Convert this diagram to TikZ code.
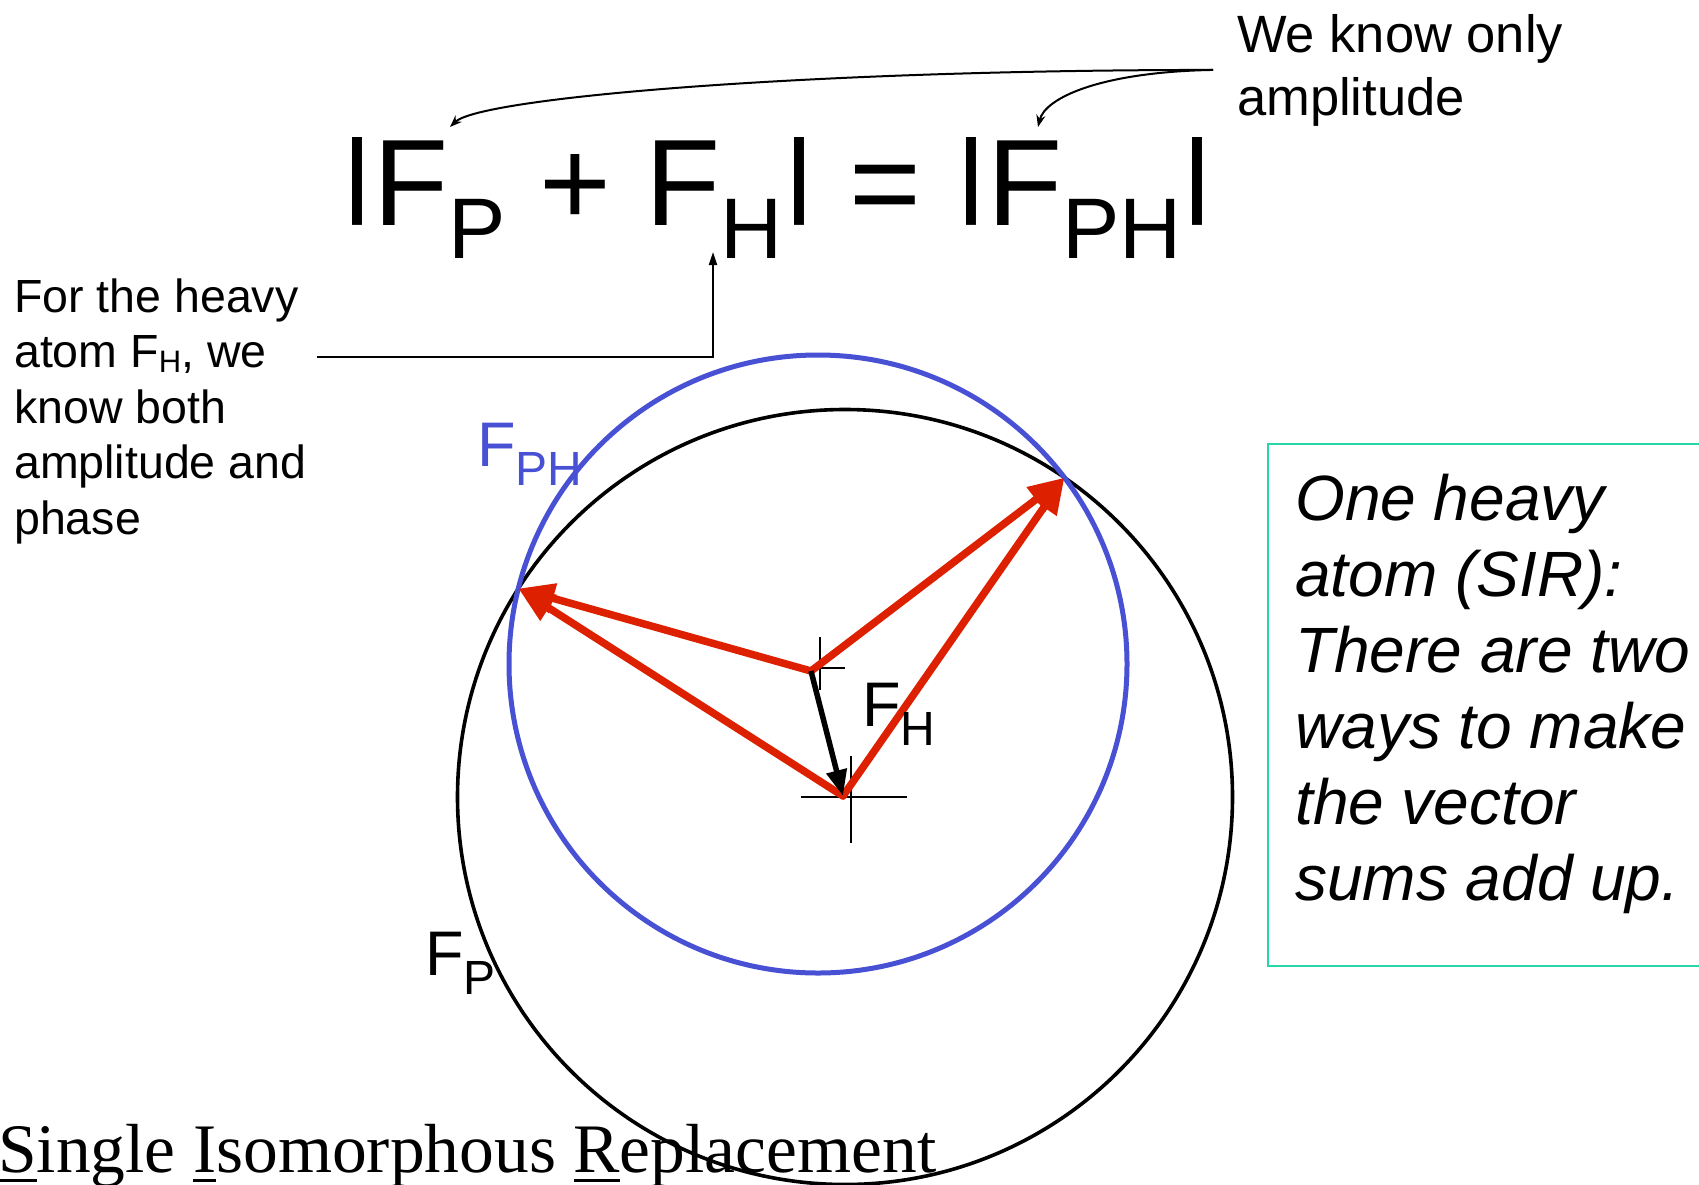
\documentclass[tikz,border=0pt]{standalone}
\usepackage{fontspec}
\usepackage{graphicx}
\setmainfont{Liberation Sans}
\newfontfamily\sirserif{Liberation Serif}
\usetikzlibrary{arrows.meta,calc}
\definecolor{phblue}{RGB}{72,80,212}
\definecolor{vecred}{RGB}{220,32,0}
\definecolor{boxteal}{RGB}{40,214,170}
\newcommand{\absbar}{\raisebox{0.16em}{\scalebox{1}[0.763]{|}}}
\newcommand{\eqsub}[1]{\raisebox{-33pt}{\fontsize{86}{90}\selectfont #1}}
\newcommand{\lblsub}[1]{\raisebox{-19pt}{\fontsize{48}{52}\selectfont #1}}
\newcommand{\txtsub}[1]{\raisebox{-5pt}{\fontsize{31}{34}\selectfont #1}}
\newcommand{\ulc}[1]{\setbox0\hbox{#1}\rlap{\rule[-10pt]{\wd0}{3.5pt}}\box0}
\begin{document}
\begin{tikzpicture}[x=1pt,y=-1pt,
  txt/.style={inner sep=0pt,anchor=base west},
  redvec/.style={draw=vecred,line width=7.5pt,line cap=round,-{Triangle[length=36pt,width=29pt]}},
  crossline/.style={draw=black,line width=1.6pt},
  callout/.style={draw=black,line width=2pt,-{Stealth[length=12pt,width=9pt]}}]
\clip (0,0) rectangle (1699,1184);
\fill[white] (0,0) rectangle (1699,1184);

\coordinate (O) at (845,797);
\coordinate (C) at (818,664);
\coordinate (V) at (811,671);
\coordinate (W) at (843,796);
\coordinate (L) at (518.35,588.51);
\coordinate (R) at (1064.49,477.65);

% circles
\draw[line width=3.6pt] (O) circle[radius=387.5];
\draw[phblue,line width=5pt] (C) circle[radius=309];

% crosses
\draw[crossline] ($(C)+(2,-27)$) -- ($(C)+(2,26)$);
\draw[crossline] ($(C)+(-8,4)$) -- ($(C)+(27,4)$);
\draw[crossline] ($(O)+(6,-41)$) -- ($(O)+(6,46)$);
\draw[crossline] ($(O)+(-44,0)$) -- ($(O)+(62,0)$);

% vectors
\draw[redvec] (V) -- (L);
\draw[redvec] (V) -- (R);
\draw[redvec] (W) -- (L);
\draw[redvec] (W) -- (R);
\draw[line width=5.5pt,-{Triangle[length=26pt,width=20pt]}] (V) -- (W);

% equation
\node[txt,font=\fontsize{123}{140}\selectfont] (eq) at (341,225)
  {\absbar F\eqsub{P} + F\eqsub{H}\absbar{} = \absbar F\eqsub{PH}\absbar};

% top-right note (base anchor = last line)
\node[txt,align=left,font=\fontsize{52.5}{63}\selectfont] (wk) at (1237,115)
  {We know only\\amplitude};
\coordinate (tipP) at (450,127);
\coordinate (tipPH) at (1038,127);
\draw[callout] ([xshift=-24pt]wk.west) .. controls (800,70) and (480,98) .. (tipP);
\draw[callout] ([xshift=-24pt]wk.west) .. controls (1100,72) and (1045,98) .. (tipPH);

% left note
\node[txt,align=left,font=\fontsize{46.5}{55.5}\selectfont] (lt) at (14,534)
  {For the heavy\\atom F\txtsub{H}, we\\know both\\amplitude and\\phase};
\coordinate (lstart) at (317,356.5);
\coordinate (ltip) at (713,252);
\draw[line width=2pt,-{Triangle[length=13pt,width=8pt]}] (lstart) -| (ltip);

% right box
\draw[boxteal,line width=2pt] (1268,444) rectangle (1710,966);
\node[txt,align=left,font=\itshape\fontsize{64}{76}\selectfont] (box) at (1295,900)
  {One heavy\\atom (SIR):\\There are two\\ways to make\\the vector\\sums add up.};

% circle labels
\node[txt,text=phblue,font=\fontsize{63}{70}\selectfont] (lph) at (477,466) {F\lblsub{PH}};
\node[txt,font=\fontsize{63}{70}\selectfont] (lh) at (862,726) {F\lblsub{H}};
\node[txt,font=\fontsize{63}{70}\selectfont] (lp) at (425,975) {F\lblsub{P}};

% bottom title
\node[txt,font=\sirserif\fontsize{69.5}{80}\selectfont] (sir) at (-2,1172)
  {\ulc{S}ingle \ulc{I}somorphous \ulc{R}eplacement};
\end{tikzpicture}
\end{document}
